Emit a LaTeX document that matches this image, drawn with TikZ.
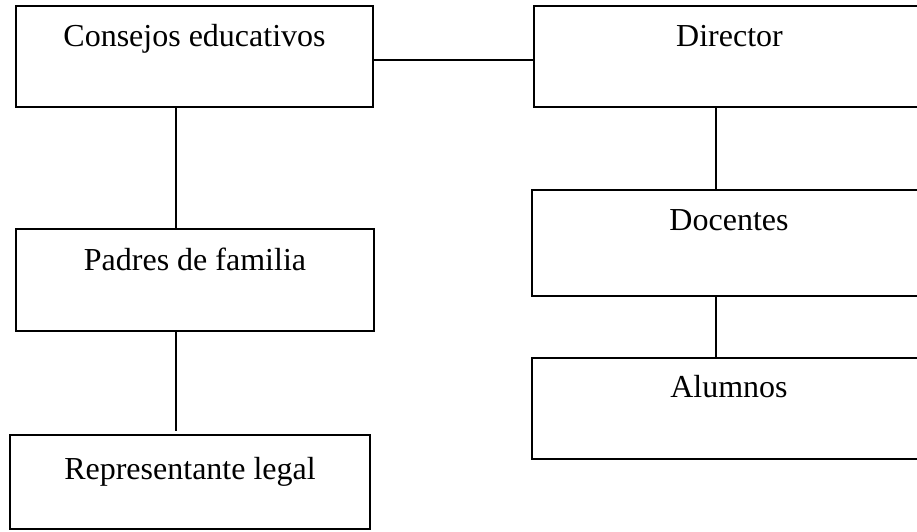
\documentclass[tikz,border=0pt]{standalone}
\usepackage{fontspec}
\setmainfont{Liberation Serif}
\begin{document}
\begin{tikzpicture}[x=1pt,y=-1pt,
  box/.style={draw=black,line width=1.3pt,rectangle,inner sep=0pt,outer sep=0pt,fill=none},
  lbl/.style={anchor=base,inner sep=0pt,font=\fontsize{32}{36}\selectfont},
  conn/.style={draw=black,line width=1.3pt}]
\useasboundingbox[fill=white] (0,0) rectangle (917,531);
\node[box,minimum width=357pt,minimum height=101pt] (ce) at (194.5,56.5) {};
\node[box,minimum width=391pt,minimum height=101pt] (dir) at (729.5,56.5) {};
\node[box,minimum width=358pt,minimum height=102pt] (pf) at (195,280) {};
\node[box,line width=2pt,minimum width=360pt,minimum height=94pt] (rl) at (190,482) {};
\node[box,minimum width=394pt,minimum height=106pt] (doc) at (729,243) {};
\node[box,minimum width=394pt,minimum height=101pt] (al) at (729,408.5) {};
\node[lbl] (tce) at ([yshift=-40pt]ce.north) {Consejos educativos};
\node[lbl] (tdir) at ([yshift=-40pt]dir.north) {Director};
\node[lbl] (tpf) at ([yshift=-41pt]pf.north) {Padres de familia};
\node[lbl] (trl) at ([yshift=-44pt]rl.north) {Representante legal};
\node[lbl] (tdoc) at ([yshift=-40pt]doc.north) {Docentes};
\node[lbl] (tal) at ([yshift=-39pt]al.north) {Alumnos};
\coordinate (rltop) at (176,431);
\draw[conn] ([yshift=-3.5pt]ce.east) -- ([yshift=-3.5pt]dir.west);
\draw[conn] ([xshift=-18.5pt]ce.south) -- ([xshift=-19pt]pf.north);
\draw[conn] ([xshift=-19pt]pf.south) -- (rltop);
\draw[conn] ([xshift=-13.5pt]dir.south) -- ([xshift=-13pt]doc.north);
\draw[conn] ([xshift=-13pt]doc.south) -- ([xshift=-13pt]al.north);
\end{tikzpicture}
\end{document}
